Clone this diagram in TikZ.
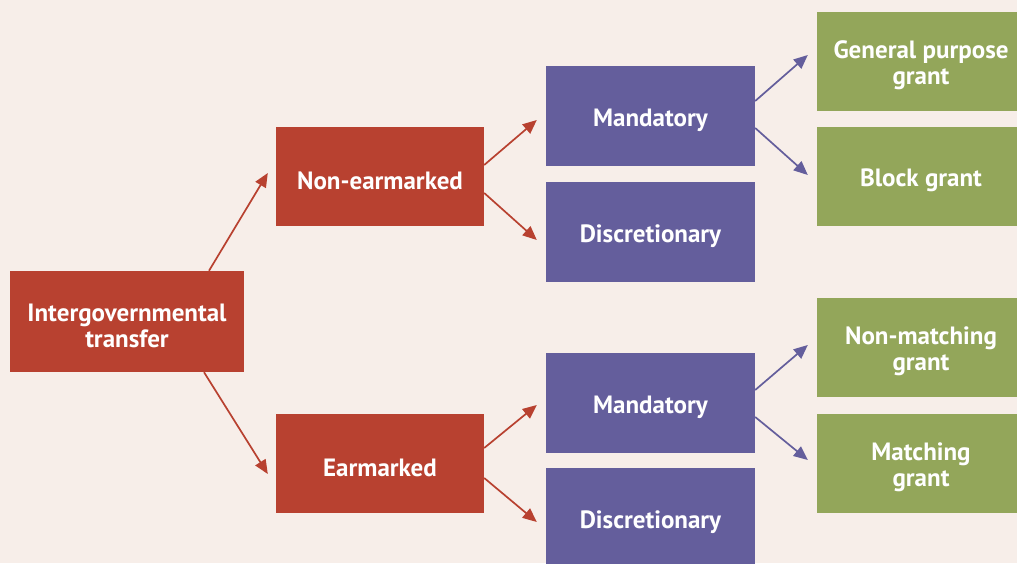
\documentclass[tikz,border=0pt]{standalone}
\usepackage{fontspec}
\setmainfont{PT Sans}
\usetikzlibrary{arrows.meta,calc}
\definecolor{bg}{HTML}{F7EEE9}
\definecolor{cred}{HTML}{B84130}
\definecolor{cpur}{HTML}{645E9C}
\definecolor{cgrn}{HTML}{93A65A}
\tikzset{
  txt/.style={text=white, align=center, inner sep=0pt, yshift=-4pt,
    font=\fontsize{25}{26}\selectfont\bfseries},
  box/.style={rectangle, draw=none, inner sep=0pt},
  redbox/.style={box, fill=cred, minimum width=208pt, minimum height=99pt},
  purbox/.style={box, fill=cpur, minimum width=209pt, minimum height=100pt},
  grnbox/.style={box, fill=cgrn, minimum width=208pt, minimum height=99pt},
  redarr/.style={draw=cred, line width=1.7pt, -{Triangle[length=14pt,width=12pt]}},
  purarr/.style={draw=cpur, line width=1.7pt, -{Triangle[length=14pt,width=12pt]}},
}
\begin{document}
\begin{tikzpicture}[x=1pt,y=1pt]
\useasboundingbox (0,0) rectangle (1017,563);
\fill[bg] (0,0) rectangle (1017,563);
\begin{scope}
\clip (0,0) rectangle (1017,563);
\node[redbox, minimum width=234pt, minimum height=101pt, label={[txt]center:{Intergovernmental\\transfer}}] (it) at (127,241.5) {};
\node[redbox, label={[txt]center:Non-earmarked}] (ne) at (380,386.5) {};
\node[redbox, label={[txt]center:Earmarked}] (e) at (380,99.5) {};
\node[purbox, label={[txt]center:Mandatory}] (mt) at (650.5,446.5) {};
\node[purbox, label={[txt]center:Discretionary}] (dt) at (650.5,330.5) {};
\node[purbox, label={[txt]center:Mandatory}] (mb) at (650.5,160) {};
\node[purbox, label={[txt]center:Discretionary}] (db) at (650.5,45) {};
\node[grnbox, label={[txt]center:{General purpose\\grant}}] (gp) at (921,501.5) {};
\node[grnbox, label={[txt]center:Block grant}] (bg) at (921,386.5) {};
\node[grnbox, label={[txt]center:{Non-matching\\grant}}] (nm) at (921,216) {};
\node[grnbox, label={[txt]center:{Matching\\grant}}] (mg) at (921,100) {};
\end{scope}
\draw[redarr] ([xshift=82pt]it.north) -- ([xshift=-8pt,yshift=3.5pt]ne.west);
\draw[redarr] ([xshift=77pt]it.south) -- ([xshift=-8pt,yshift=-10.5pt]e.west);
\draw[redarr] ([yshift=11.5pt]ne.east) -- ([xshift=-9pt,yshift=-3.5pt]mt.west);
\draw[redarr] ([yshift=-16.5pt]ne.east) -- ([xshift=-9pt,yshift=-7.5pt]dt.west);
\draw[redarr] ([yshift=15.5pt]e.east) -- ([xshift=-9pt,yshift=-2pt]mb.west);
\draw[redarr] ([yshift=-14.5pt]e.east) -- ([xshift=-9pt,yshift=-4pt]db.west);
\draw[purarr] ([yshift=15.5pt]mt.east) -- ([xshift=-9pt,yshift=6.5pt]gp.west);
\draw[purarr] ([yshift=-11.5pt]mt.east) -- ([xshift=-9pt,yshift=1.5pt]bg.west);
\draw[purarr] ([yshift=13pt]mb.east) -- ([xshift=-9pt,yshift=2pt]nm.west);
\draw[purarr] ([yshift=-14pt]mb.east) -- ([xshift=-9pt,yshift=3pt]mg.west);
\end{tikzpicture}
\end{document}
